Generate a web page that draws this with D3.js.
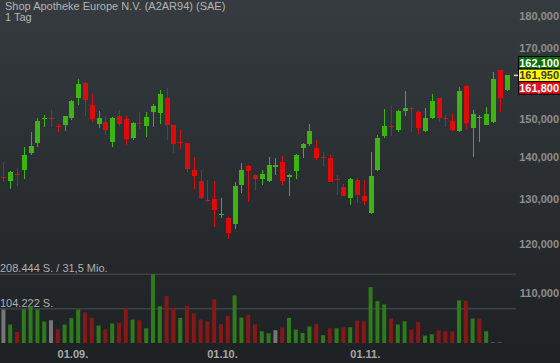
<!DOCTYPE html>
<html>
<head>
<meta charset="utf-8">
<script src="https://cdn.jsdelivr.net/npm/d3@7"></script>
<style>
  html, body { margin: 0; padding: 0; background: #1f2225; }
  svg { display: block; font-family: "Liberation Sans", Arial, sans-serif; }
</style>
</head>
<body>
<div id="chart"></div>
<script>
// daily candles, Shop Apotheke (SAE), 18.08. - 30.11.
const openPrices = [135.3, 134.3, 136.0, 136.9, 141.0, 143.5, 149.9, 150.2, 148.1, 148.4,
    150.2, 155.6, 159.7, 153.7, 148.6, 149.1, 143.8, 150.7, 149.9, 144.8,
    148.7, 148.0, 151.8, 151.6, 155.6, 148.2, 143.9, 143.6, 137.0, 134.3,
    129.9, 130.0, 126.5, 125.8, 124.4, 133.2, 137.8, 135.7, 134.8, 134.3,
    137.7, 138.8, 135.2, 136.7, 142.3, 143.3, 142.3, 140.1, 139.9, 134.6,
    132.7, 130.3, 134.5, 130.7, 126.9, 137.0, 145.4, 148.05, 147.0, 151.9,
    152.9, 151.8, 146.7, 150.2, 155.6, 150.15, 149.4, 146.6, 158.9, 147.4,
    150.1, 148.4, 149.2, 163.5, 157.9];
const highPrices = [138.8, 136.7, 137.4, 142.7, 146.5, 150.1, 150.95, 152.3, 148.6, 150.7,
    155.0, 160.8, 160.0, 156.7, 152.0, 150.6, 150.4, 152.25, 150.8, 149.2,
    151.7, 151.7, 153.9, 157.7, 158.3, 148.3, 147.1, 143.7, 140.2, 137.0,
    134.5, 134.2, 130.2, 125.9, 134.0, 138.7, 138.0, 136.0, 137.0, 140.0,
    139.8, 140.4, 135.9, 140.8, 143.5, 148.6, 144.3, 141.3, 140.7, 135.8,
    133.5, 134.9, 134.9, 134.5, 141.3, 145.6, 152.5, 153.5, 152.3, 157.5,
    153.0, 151.9, 152.9, 156.7, 155.7, 150.95, 151.3, 158.5, 159.3, 152.3,
    150.95, 153.1, 162.8, 163.6, 162.0];
const lowPrices = [133.9, 132.3, 133.0, 134.7, 140.6, 142.7, 147.8, 147.7, 146.4, 146.7,
    149.7, 153.6, 150.7, 149.2, 147.4, 145.75, 142.6, 148.0, 143.0, 144.4,
    147.3, 145.1, 147.8, 148.5, 144.3, 141.0, 142.1, 136.5, 132.3, 130.0,
    129.4, 123.7, 125.6, 121.1, 123.3, 131.3, 129.4, 132.1, 133.4, 134.1,
    135.8, 133.4, 130.8, 134.7, 139.9, 142.9, 139.3, 137.8, 133.9, 131.0,
    130.6, 128.7, 129.2, 128.6, 126.7, 136.6, 145.0, 145.4, 146.4, 150.7,
    146.4, 146.0, 146.4, 149.9, 149.0, 147.8, 146.7, 146.4, 147.3, 140.2,
    143.9, 148.3, 148.8, 151.8, 157.6];
const closePrices = [135.1, 136.4, 135.8, 140.5, 142.8, 149.4, 150.1, 150.1, 148.0, 150.6,
    154.8, 159.4, 154.9, 149.95, 150.1, 146.9, 150.1, 148.6, 144.6, 148.9,
    148.5, 150.4, 153.4, 156.7, 148.4, 143.4, 143.7, 137.2, 135.5, 130.2,
    129.7, 127.6, 126.7, 122.3, 133.1, 136.8, 136.7, 134.6, 136.0, 138.2,
    138.2, 134.3, 135.8, 140.5, 143.3, 146.6, 139.8, 139.9, 134.1, 134.4,
    130.7, 134.8, 131.0, 129.6, 135.5, 145.0, 148.1, 147.95, 152.0, 152.9,
    152.5, 147.4, 150.1, 154.8, 150.2, 150.0, 146.9, 157.5, 148.8, 151.2,
    150.3, 151.2, 160.8, 155.6, 161.95];
// shares traded per day (last days without volume)
const volumes = [101800, 56000, 33500, 101800, 111800, 101800, 65200, 69200, 40800, 56000,
    75300, 101800, 93500, 76200, 53000, 41700, 59100, 60900, 106600, 71300,
    69200, 44800, 208444, 111800, 142300, 106600, 76200, 112700, 89600, 71300,
    65200, 132200, 57000, 82300, 144400, 77400, 85300, 57000, 35700, 29600,
    38700, 46900, 76200, 40800, 30500, 50000, 57900, 23500, 44800, 44800,
    46900, 47800, 68300, 65200, 169700, 127100, 117000, 74300, 56000, 66100,
    40800, 64000, 22500, 26500, 38700, 34700, 34700, 129200, 128000, 74300,
    74300, 35700, 0, 0, null];

// 160,000 sits behind the quote boxes, so it is left out
const priceTicks = [110, 120, 130, 140, 150, 170, 180];
const dateTickIndex = [10, 32, 53];
const dateTickLabels = ["01.09.", "01.10.", "01.11."];

const askPrice = 162.1;
const lastPrice = 161.95;
const bidPrice = 161.8;

const title = "Shop Apotheke Europe N.V. (A2AR94) (SAE)";
const period = "1 Tag";
const turnoverText = "31,5 Mio.";

const de = d3.formatLocale({ decimal: ",", thousands: ".", grouping: [3], currency: ["", " €"] });
const fmtPrice = de.format(",.3f");
const fmtShares = de.format(",d");

const width = 560, height = 363;
const green = "#3db40f", red = "#e10a0a";

const svg = d3.select("#chart")
    .append("svg")
    .attr("width", width)
    .attr("height", height);

const grad = svg.append("defs").append("linearGradient")
    .attr("id", "bg").attr("x1", 0).attr("x2", 0).attr("y1", 0).attr("y2", 1);
grad.append("stop").attr("offset", "0%").attr("stop-color", "#353b3f");
grad.append("stop").attr("offset", "100%").attr("stop-color", "#1e2124");

svg.append("rect").attr("width", width).attr("height", height).attr("fill", "url(#bg)");

const n = closePrices.length;
const x = d3.scaleBand()
    .domain(d3.range(n))
    .range([0, 510]);
const cx = i => x(i) + x.bandwidth() / 2;

// price axis is logarithmic
const y = d3.scaleLog()
    .domain([110, 180])
    .range([293.1, 15.9]);

const maxVol = d3.max(volumes);
const yVol = d3.scaleLinear()
    .domain([0, maxVol])
    .range([343, 274.3]);

// volume reference lines + labels
const volLines = svg.append("g");
[maxVol, maxVol / 2].forEach(v => {
    volLines.append("line")
        .attr("x1", 0).attr("x2", 516)
        .attr("y1", yVol(v)).attr("y2", yVol(v))
        .attr("stroke", "#3c4145")
        .attr("stroke-width", 1.5);
});
volLines.append("text")
    .attr("x", 0).attr("y", yVol(maxVol) - 2.5)
    .attr("fill", "#b0b0b0").attr("font-size", 11)
    .text(`${fmtShares(maxVol)} S. / ${turnoverText}`);
volLines.append("text")
    .attr("x", 0).attr("y", yVol(maxVol / 2) - 2)
    .attr("fill", "#b0b0b0").attr("font-size", 11)
    .text(`${fmtShares(Math.round(maxVol / 2))} S.`);

// volume bars, coloured by change against the previous close
const volColor = i => {
    if (i === 0 || closePrices[i] === closePrices[i - 1]) return "#767676";
    return closePrices[i] > closePrices[i - 1] ? "#2f7a1a" : "#861818";
};
svg.append("g")
    .selectAll("rect")
    .data(d3.range(n).filter(i => volumes[i] != null))
    .join("rect")
    .attr("x", i => cx(i) - 2)
    .attr("width", 4)
    .attr("y", i => volumes[i] > 0 ? yVol(volumes[i]) : yVol(0) - 1)
    .attr("height", i => volumes[i] > 0 ? yVol(0) - yVol(volumes[i]) : 1)
    .attr("fill", i => volumes[i] > 0 ? volColor(i) : "#4a4e52");

// price axis labels
svg.append("g")
    .attr("transform", "translate(559,0)")
    .call(d3.axisRight(y).tickValues(priceTicks).tickFormat(fmtPrice).tickSize(0))
    .call(g => g.select(".domain").remove())
    .selectAll("text")
    .attr("x", 0)
    .attr("text-anchor", "end")
    .attr("fill", "#8f8f8f")
    .attr("font-size", 11)
    .attr("font-weight", "bold")
    .attr("font-family", "Liberation Sans, Arial, sans-serif");

// candles
const candles = svg.append("g").attr("shape-rendering", "crispEdges");
const candleColor = i => closePrices[i] >= openPrices[i] ? green : red;

candles.selectAll("line")
    .data(d3.range(n))
    .join("line")
    .attr("x1", i => Math.round(cx(i)) + 0.5)
    .attr("x2", i => Math.round(cx(i)) + 0.5)
    .attr("y1", i => y(highPrices[i]))
    .attr("y2", i => y(lowPrices[i]))
    .attr("stroke", candleColor)
    .attr("stroke-width", 1);

candles.selectAll("rect")
    .data(d3.range(n))
    .join("rect")
    .attr("x", i => Math.round(cx(i)) - 2)
    .attr("width", 5)
    .attr("y", i => y(Math.max(openPrices[i], closePrices[i])))
    .attr("height", i => Math.max(1, Math.abs(y(openPrices[i]) - y(closePrices[i]))))
    .attr("fill", candleColor);

// date labels
const tickLabelMap = new Map(dateTickIndex.map((d, i) => [d, dateTickLabels[i]]));
svg.append("g")
    .attr("transform", "translate(1.5,347)")
    .call(d3.axisBottom(x).tickValues(dateTickIndex).tickFormat(d => tickLabelMap.get(d)).tickSize(0))
    .call(g => g.select(".domain").remove())
    .selectAll("text")
    .attr("fill", "#a8a8a8")
    .attr("font-size", 11)
    .attr("font-weight", "bold")
    .attr("font-family", "Liberation Sans, Arial, sans-serif");

// current price marker and quote boxes
const yLast = y(lastPrice);
svg.append("line")
    .attr("x1", 514).attr("x2", 518)
    .attr("y1", yLast).attr("y2", yLast)
    .attr("stroke", "#d8d8d8").attr("stroke-width", 1.5);

const quotes = [
    { v: askPrice, fill: "#0a6e0a", text: "#ffffff", dy: -12.6 },
    { v: lastPrice, fill: "#ffff00", text: "#3a3a2a", dy: 0 },
    { v: bidPrice, fill: "#e0101e", text: "#ffffff", dy: 12.6 }
];
const qg = svg.append("g");
quotes.forEach(q => {
    const top = yLast - 6.3 + q.dy;
    qg.append("rect")
        .attr("x", 518.5).attr("y", top)
        .attr("width", 44).attr("height", 12.6)
        .attr("fill", q.fill)
        .attr("stroke", "#000").attr("stroke-width", 1);
    qg.append("text")
        .attr("x", 559).attr("y", top + 10.2)
        .attr("text-anchor", "end")
        .attr("fill", q.text)
        .attr("font-size", 11)
        .attr("font-weight", "bold")
        .text(fmtPrice(q.v));
});

// title
svg.append("text")
    .attr("x", 5).attr("y", 10)
    .attr("fill", "#b4b4b4").attr("font-size", 11)
    .text(title);
svg.append("text")
    .attr("x", 5).attr("y", 20.5)
    .attr("fill", "#b4b4b4").attr("font-size", 11)
    .text(period);
</script>
</body>
</html>
